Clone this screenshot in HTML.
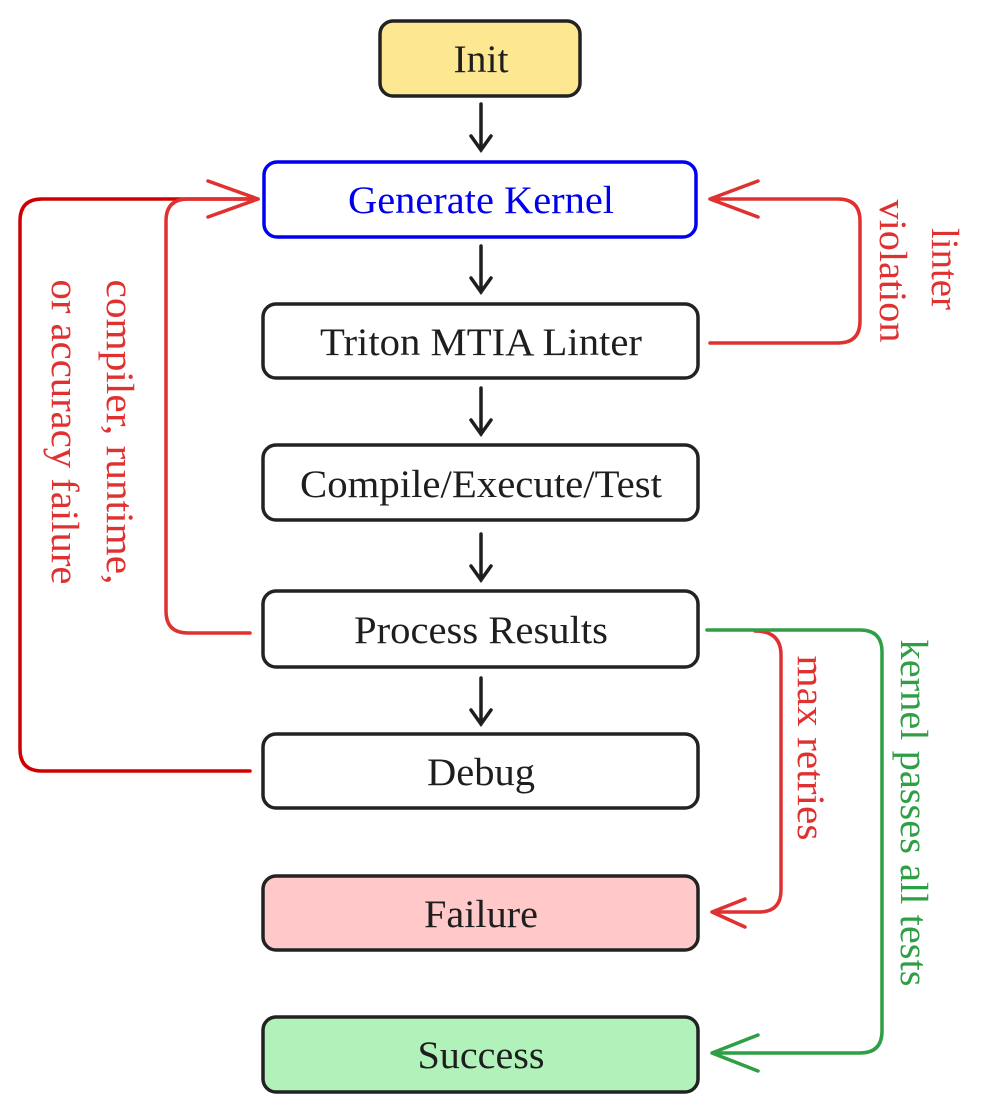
<!DOCTYPE html>
<html><head><meta charset="utf-8"><style>body{margin:0;background:#fff}</style></head>
<body>
<svg width="997" height="1112" viewBox="0 0 997 1112" xmlns="http://www.w3.org/2000/svg" font-family="Liberation Serif, serif" font-size="39">
<g stroke="#222" stroke-width="3.5">
<rect x="380" y="21" width="200" height="75" rx="13" fill="#fde891"/>
<rect x="264" y="162" width="432" height="75" rx="13" fill="#fff" stroke="#0000ee"/>
<rect x="263" y="304" width="435" height="74" rx="13" fill="#fff"/>
<rect x="263" y="445" width="435" height="75" rx="13" fill="#fff"/>
<rect x="263" y="591" width="435" height="76" rx="13" fill="#fff"/>
<rect x="263" y="734" width="435" height="74" rx="13" fill="#fff"/>
<rect x="263" y="876" width="435" height="74" rx="13" fill="#ffc9c9"/>
<rect x="263" y="1017" width="435" height="75" rx="13" fill="#b1f2bb"/>
</g>
<g text-anchor="middle" fill="#1e1e1e">
<text x="481" y="72" textLength="55" lengthAdjust="spacingAndGlyphs">Init</text>
<text x="481" y="213" fill="#0000ee" textLength="266" lengthAdjust="spacingAndGlyphs">Generate Kernel</text>
<text x="481" y="355" textLength="322" lengthAdjust="spacingAndGlyphs">Triton MTIA Linter</text>
<text x="481" y="497" textLength="362" lengthAdjust="spacingAndGlyphs">Compile/Execute/Test</text>
<text x="481" y="643" textLength="254" lengthAdjust="spacingAndGlyphs">Process Results</text>
<text x="481" y="785" textLength="108" lengthAdjust="spacingAndGlyphs">Debug</text>
<text x="481" y="927" textLength="114" lengthAdjust="spacingAndGlyphs">Failure</text>
<text x="481" y="1068" textLength="127" lengthAdjust="spacingAndGlyphs">Success</text>
</g>
<g stroke="#1e1e1e" stroke-width="3.5" fill="none" stroke-linecap="round">
<path d="M481 104V150M471 136L481 150L491 136"/>
<path d="M481 246V292M471 278L481 292L491 278"/>
<path d="M481 388V434M471 420L481 434L491 420"/>
<path d="M481 534V580M471 566L481 580L491 566"/>
<path d="M481 678V724M471 710L481 724L491 710"/>
</g>
<g fill="none" stroke-width="3.5" stroke-linecap="round" stroke-linejoin="round">
<path d="M250 771H42Q20 771 20 749V221Q20 199 42 199H258" stroke="#d00000"/>
<path d="M250 633H188Q166 633 166 611V221Q166 199 188 199H258M208 181L258 199L208 217" stroke="#e03131"/>
<path d="M710 343H838Q860 343 860 321V221Q860 199 838 199H710M758 181L710 199L758 217" stroke="#e03131"/>
<path d="M755 631Q781 631 781 655V890Q781 912 759 912H712M745 899L712 912L745 927" stroke="#e03131"/>
<path d="M707 630H860Q882 630 882 652V1031Q882 1053 860 1053H712M758 1035L712 1053L758 1071" stroke="#2f9e44"/>
</g>
<g font-size="39">
<text transform="translate(107,432) rotate(90)" text-anchor="middle" fill="#e03131" textLength="305" lengthAdjust="spacingAndGlyphs">compiler, runtime,</text>
<text transform="translate(52,432) rotate(90)" text-anchor="middle" fill="#e03131" textLength="305" lengthAdjust="spacingAndGlyphs">or accuracy failure</text>
<text transform="translate(932,269) rotate(90)" text-anchor="middle" fill="#e03131" textLength="82" lengthAdjust="spacingAndGlyphs">linter</text>
<text transform="translate(880,271) rotate(90)" text-anchor="middle" fill="#e03131" textLength="143" lengthAdjust="spacingAndGlyphs">violation</text>
<text transform="translate(798,748) rotate(90)" text-anchor="middle" fill="#e03131" textLength="185" lengthAdjust="spacingAndGlyphs">max retries</text>
<text transform="translate(901,813) rotate(90)" text-anchor="middle" fill="#2f9e44" textLength="347" lengthAdjust="spacingAndGlyphs">kernel passes all tests</text>
</g>
</svg>
</body></html>
